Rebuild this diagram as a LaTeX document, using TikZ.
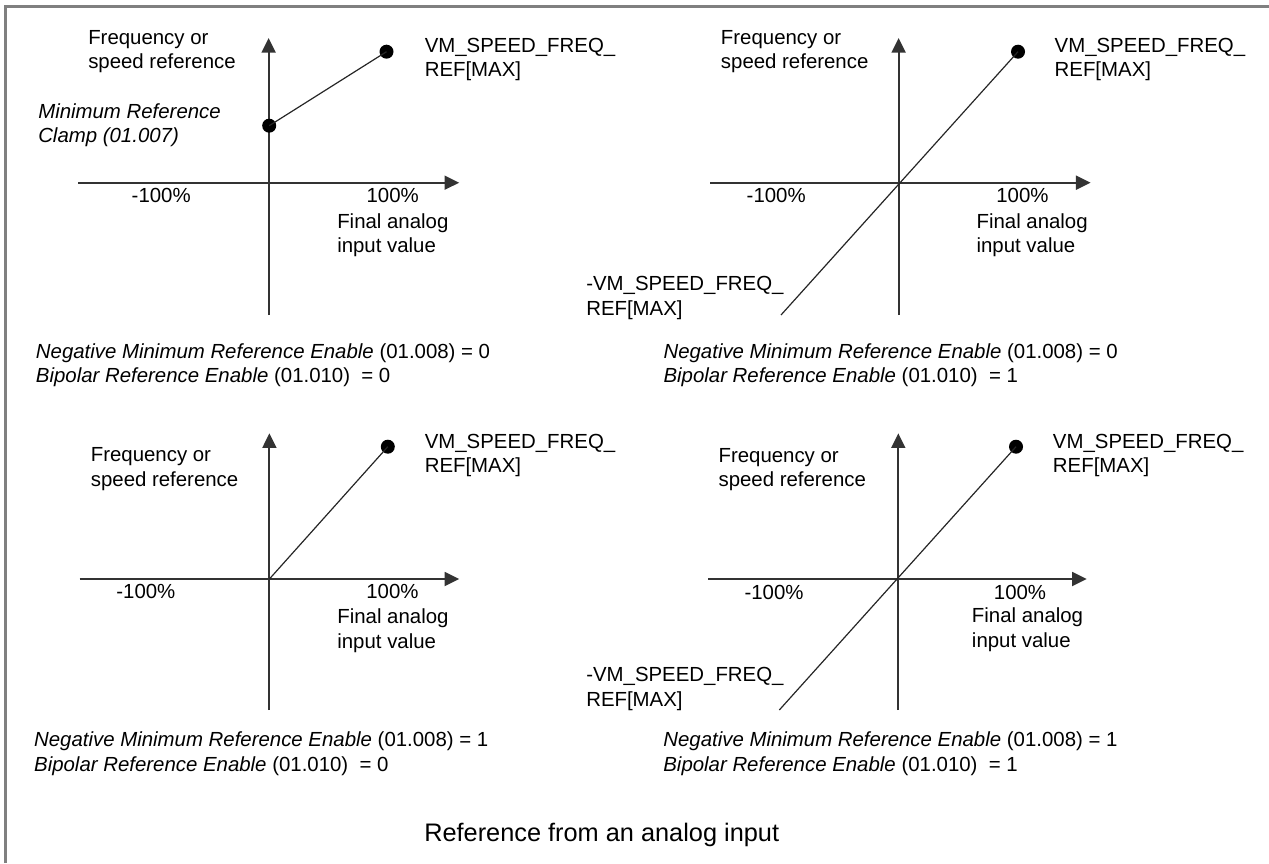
\documentclass[tikz,border=0pt]{standalone}
\usepackage{fontspec}
\setmainfont{Liberation Sans}
\usetikzlibrary{positioning, arrows.meta}

\begin{document}
\begin{tikzpicture}[x=0.75pt, y=-0.75pt,
  axis/.style={draw=black!80, line width=1.4pt, -{Triangle[length=11pt, width=10.5pt]}},
  curve/.style={draw=black!85, line width=0.9pt},
  dot/.style={circle, fill=black, inner sep=0pt, minimum size=10.5pt},
  txt/.style={inner sep=0pt, align=left, font=\fontsize{15.3}{18.4}\selectfont},
  frame/.style={draw=black!50, line width=1.9pt}]

\useasboundingbox (0,0) rectangle (1269,863);

% ---------- MARCO ----------
\coordinate (fa) at (5.6,863);
\coordinate (fb) at (5.6,6.7);
\coordinate (fc) at (1269,6.7);
\draw[frame] (fa) -- (fb) -- (fc);

% ---------- PANEL 1 (arriba izquierda) ----------
\coordinate (o1) at (268.6,182.7);
\coordinate (xl1) at (78.4,182.7);
\coordinate (xr1) at (459.2,182.7);
\coordinate (yb1) at (268.6,315);
\coordinate (yt1) at (268.6,38);
\draw[axis] (xl1) -- (xr1);
\draw[axis] (yb1) -- (yt1);

\node[dot] (min1) at (269.2,125.7) {};
\node[dot] (max1) at (386.5,51.7) {};
\draw[curve] (min1.center) -- (max1.center);

% (base = ultima linea del texto)
\node[txt, anchor=base west] (freq1) at (88,68.8) {Frequency or\\speed reference};
\node[txt, anchor=base west] (vmax1) at (424.5,76.8) {VM\_SPEED\_FREQ\_\\REF[MAX]};
\node[txt, anchor=base west] (clamp1) at (38,142.8) {\textit{Minimum Reference}\\\textit{Clamp (01.007)}};
\node[txt, anchor=base] (neg1) at (161.2,202.7) {-100\%};
\node[txt, anchor=base] (pos1) at (392.7,202.7) {100\%};
\node[txt, anchor=base west] (fin1) at (337,252.8) {Final analog\\input value};
\node[txt, anchor=base west] (cap1) at (35.7,382.8)
  {\textit{Negative Minimum Reference Enable} (01.008) = 0\\\textit{Bipolar Reference Enable} (01.010) \ = 0};

% ---------- PANEL 2 (arriba derecha) ----------
\coordinate (o2) at (898.6,182.7);
\coordinate (xl2) at (710,182.7);
\coordinate (xr2) at (1090.6,182.7);
\coordinate (yb2) at (898.6,315);
\coordinate (yt2) at (898.6,38);
\draw[axis] (xl2) -- (xr2);
\draw[axis] (yb2) -- (yt2);

\coordinate (low2) at (781,315);
\node[dot] (max2) at (1018,51.7) {};
\draw[curve] (low2) -- (max2.center);

\node[txt, anchor=base west] (freq2) at (720.7,68.8) {Frequency or\\speed reference};
\node[txt, anchor=base west] (vmax2) at (1054.4,76.8) {VM\_SPEED\_FREQ\_\\REF[MAX]};
\node[txt, anchor=base] (neg2) at (776.2,202.7) {-100\%};
\node[txt, anchor=base] (pos2) at (1022.4,202.7) {100\%};
\node[txt, anchor=base west] (fin2) at (976.3,252.8) {Final analog\\input value};
\node[txt, anchor=base west] (vmin2) at (586,315) {-VM\_SPEED\_FREQ\_\\REF[MAX]};
\node[txt, anchor=base west] (cap2) at (663.3,382.8)
  {\textit{Negative Minimum Reference Enable} (01.008) = 0\\\textit{Bipolar Reference Enable} (01.010) \ = 1};

% ---------- PANEL 3 (abajo izquierda) ----------
\coordinate (o3) at (269.4,579);
\coordinate (xl3) at (79.6,579);
\coordinate (xr3) at (459.2,579);
\coordinate (yb3) at (269.4,710);
\coordinate (yt3) at (269.4,433.3);
\draw[axis] (xl3) -- (xr3);
\draw[axis] (yb3) -- (yt3);

\node[dot] (max3) at (387.8,446.7) {};
\draw[curve] (o3) -- (max3.center);

\node[txt, anchor=base west] (freq3) at (90.6,486.2) {Frequency or\\speed reference};
\node[txt, anchor=base west] (vmax3) at (424.5,472.8) {VM\_SPEED\_FREQ\_\\REF[MAX]};
\node[txt, anchor=base] (neg3) at (145.9,598.3) {-100\%};
\node[txt, anchor=base] (pos3) at (392.4,598.3) {100\%};
\node[txt, anchor=base west] (fin3) at (337.1,648) {Final analog\\input value};
\node[txt, anchor=base west] (cap3) at (33.9,771.2)
  {\textit{Negative Minimum Reference Enable} (01.008) = 1\\\textit{Bipolar Reference Enable} (01.010) \ = 0};

% ---------- PANEL 4 (abajo derecha) ----------
\coordinate (o4) at (898.3,579);
\coordinate (xl4) at (708.3,579);
\coordinate (xr4) at (1086.7,579);
\coordinate (yb4) at (898.3,710);
\coordinate (yt4) at (898.3,433.3);
\draw[axis] (xl4) -- (xr4);
\draw[axis] (yb4) -- (yt4);

\coordinate (low4) at (779.3,710);
\node[dot] (max4) at (1016,446.7) {};
\draw[curve] (low4) -- (max4.center);

\node[txt, anchor=base west] (freq4) at (718.3,486.8) {Frequency or\\speed reference};
\node[txt, anchor=base west] (vmax4) at (1052.7,472.8) {VM\_SPEED\_FREQ\_\\REF[MAX]};
\node[txt, anchor=base] (neg4) at (774,599.3) {-100\%};
\node[txt, anchor=base] (pos4) at (1020,599.3) {100\%};
\node[txt, anchor=base west] (fin4) at (971.7,647.2) {Final analog\\input value};
\node[txt, anchor=base west] (vmin4) at (586,706.2) {-VM\_SPEED\_FREQ\_\\REF[MAX]};
\node[txt, anchor=base west] (cap4) at (663.1,771.2)
  {\textit{Negative Minimum Reference Enable} (01.008) = 1\\\textit{Bipolar Reference Enable} (01.010) \ = 1};

% ---------- TITULO ----------
\node[inner sep=0pt, anchor=base west, font=\fontsize{19}{23}\selectfont] (title) at (424,841.7)
  {Reference from an analog input};

\end{tikzpicture}
\end{document}
